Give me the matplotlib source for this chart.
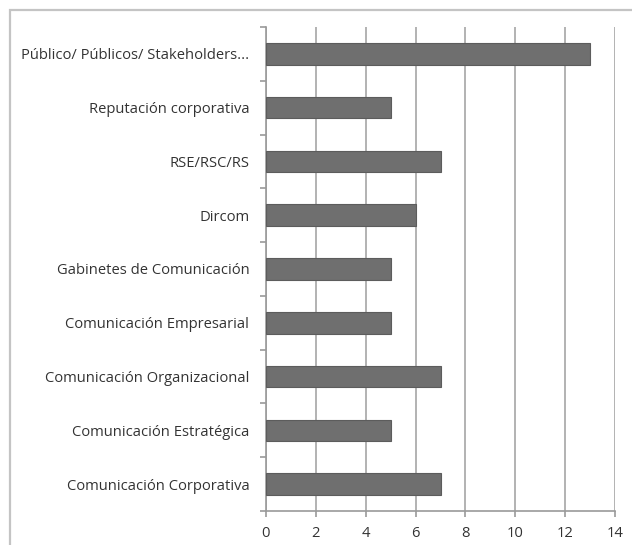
import matplotlib
matplotlib.use("Agg")
import matplotlib.pyplot as plt
from matplotlib.patches import Rectangle

categories = [
    "Público/ Públicos/ Stakeholders...",
    "Reputación corporativa",
    "RSE/RSC/RS",
    "Dircom",
    "Gabinetes de Comunicación",
    "Comunicación Empresarial",
    "Comunicación Organizacional",
    "Comunicación Estratégica",
    "Comunicación Corporativa",
]
values = [13, 5, 7, 6, 5, 5, 7, 5, 7]
xticks = [0, 2, 4, 6, 8, 10, 12, 14]

plt.rcParams["font.family"] = ["Open Sans", "DejaVu Sans"]

fig = plt.figure(figsize=(6.32, 5.45), dpi=100)
ax = fig.add_axes([266 / 632, 1 - 511 / 545, (615 - 266) / 632, (511 - 27) / 545])

# outer frame around the chart
fig.patches.append(Rectangle((10 / 632, -0.2), 1.2, 1 - 10 / 545 + 0.2,
                             transform=fig.transFigure, fill=False,
                             edgecolor="#c4c4c4", linewidth=1.6))

n = len(categories)
ypos = list(range(n))[::-1]
ax.barh(ypos, values, height=0.4, color="#6f6f6f", edgecolor="#5c5c5c",
        linewidth=0.8, zorder=3)

ax.set_xlim(0, 14)
ax.set_ylim(-0.5, n - 0.5)
ax.set_xticks(xticks)
ax.set_xticklabels([str(t) for t in xticks])
ax.set_yticks(ypos)
ax.set_yticklabels(categories)
ax.set_yticks([i - 0.5 for i in range(n + 1)], minor=True)

ax.grid(axis="x", color="#a6a6a6", linewidth=1.2, zorder=0)
for s in ["top", "right"]:
    ax.spines[s].set_visible(False)
for s in ["left", "bottom"]:
    ax.spines[s].set_color("#9a9a9a")
    ax.spines[s].set_linewidth(1.2)

ax.tick_params(axis="y", which="major", length=0, pad=12,
               labelsize=10.6, labelcolor="#333333")
ax.tick_params(axis="y", which="minor", length=4, color="#9a9a9a", width=1.2)
ax.tick_params(axis="x", length=4, color="#9a9a9a", width=1.2, pad=7,
               labelsize=10.6, labelcolor="#333333")

fig.savefig("out.png", dpi=100)
